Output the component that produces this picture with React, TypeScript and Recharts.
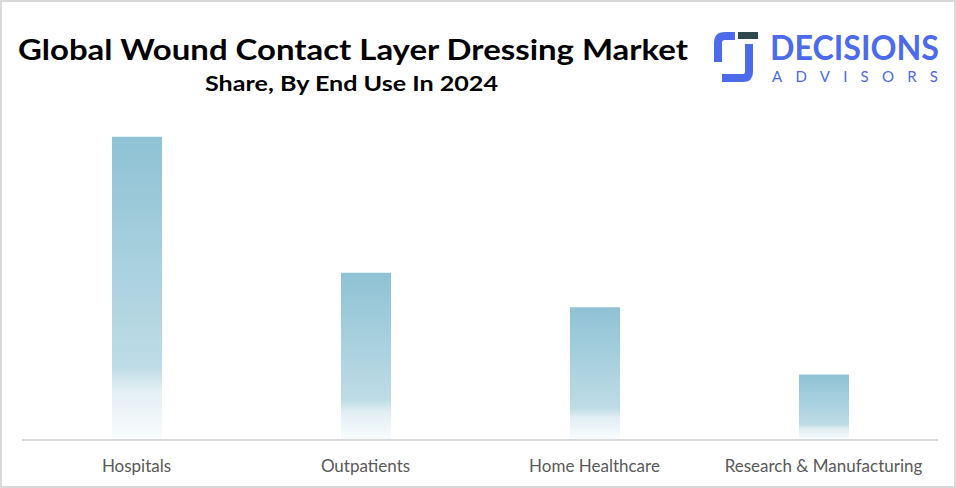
import { BarChart, Bar, XAxis, YAxis } from 'recharts'

const categories = ['Hospitals', 'Outpatients', 'Home Healthcare', 'Research & Manufacturing']
const shares = [45, 24.8, 19.7, 9.7]

const data = categories.map((name, i) => ({ name, share: shares[i] }))

const W = 956
const H = 488
const FONT = "Lato, 'Noto Sans', sans-serif"

function Heading() {
  return (
    <svg width={720} height={110} style={{ position: 'absolute', left: -2, top: -2 }}>
      <text
        x={18}
        y={60}
        fontFamily={FONT}
        fontWeight={700}
        fontSize={29}
        fill="#000"
        textLength={670}
        lengthAdjust="spacingAndGlyphs"
      >
        Global Wound Contact Layer Dressing Market
      </text>
      <text
        x={205}
        y={91}
        fontFamily={FONT}
        fontWeight={700}
        fontSize={21}
        fill="#000"
        textLength={293}
        lengthAdjust="spacingAndGlyphs"
      >
        Share, By End Use In 2024
      </text>
    </svg>
  )
}

function Logo() {
  return (
    <svg width={245} height={70} style={{ position: 'absolute', left: 706, top: 20 }}>
      <path
        d="M27 14 L17 14 Q10 14 10 21 L10 40"
        fill="none"
        stroke="#4C6BEA"
        strokeWidth={8}
        strokeLinejoin="round"
      />
      <rect x={30} y={10} width={20} height={7} fill="#2E4A4E" />
      <path
        d="M41 22 L41 50 Q41 56 35 56 L14 56"
        fill="none"
        stroke="#4C6BEA"
        strokeWidth={8}
        strokeLinejoin="round"
      />
      <text
        x={62}
        y={38}
        fontFamily={FONT}
        fontWeight={700}
        fontSize={34}
        fill="#4C6BEA"
        textLength={169}
        lengthAdjust="spacingAndGlyphs"
      >
        DECISIONS
      </text>
      <text
        x={64}
        y={60}
        fontFamily={FONT}
        fontSize={15}
        fill="#4C6BEA"
        textLength={166}
        lengthAdjust="spacing"
      >
        ADVISORS
      </text>
    </svg>
  )
}

export default function App() {
  return (
    <div
      style={{
        position: 'fixed',
        left: 0,
        top: 0,
        width: W,
        height: H,
        background: '#fff',
        border: '2px solid #D9D9D9',
        boxSizing: 'border-box',
        overflow: 'hidden',
      }}
    >
      <Heading />
      <Logo />
      <div style={{ position: 'absolute', left: -2, top: -2 }}>
        <BarChart
          width={W}
          height={H}
          data={data}
          margin={{ top: 103, right: 18, bottom: 18, left: 22 }}
        >
          <defs>
            <linearGradient id="barFade" x1="0" y1="0" x2="0" y2="1">
              <stop offset="0%" stopColor="#8EC2D4" />
              <stop offset="76%" stopColor="#BEDCE6" />
              <stop offset="83%" stopColor="#E0EEF3" />
              <stop offset="100%" stopColor="#FAFCFD" />
            </linearGradient>
          </defs>
          <XAxis
            dataKey="name"
            height={30}
            axisLine={{ stroke: '#D9D9D9', strokeWidth: 2 }}
            tickLine={false}
            tickMargin={14}
            tick={{ fontFamily: FONT, fontSize: 17, fill: '#595959' }}
            interval={0}
          />
          <YAxis hide domain={[0, 50]} />
          <Bar dataKey="share" fill="url(#barFade)" barSize={50} isAnimationActive={false} />
        </BarChart>
      </div>
    </div>
  )
}
